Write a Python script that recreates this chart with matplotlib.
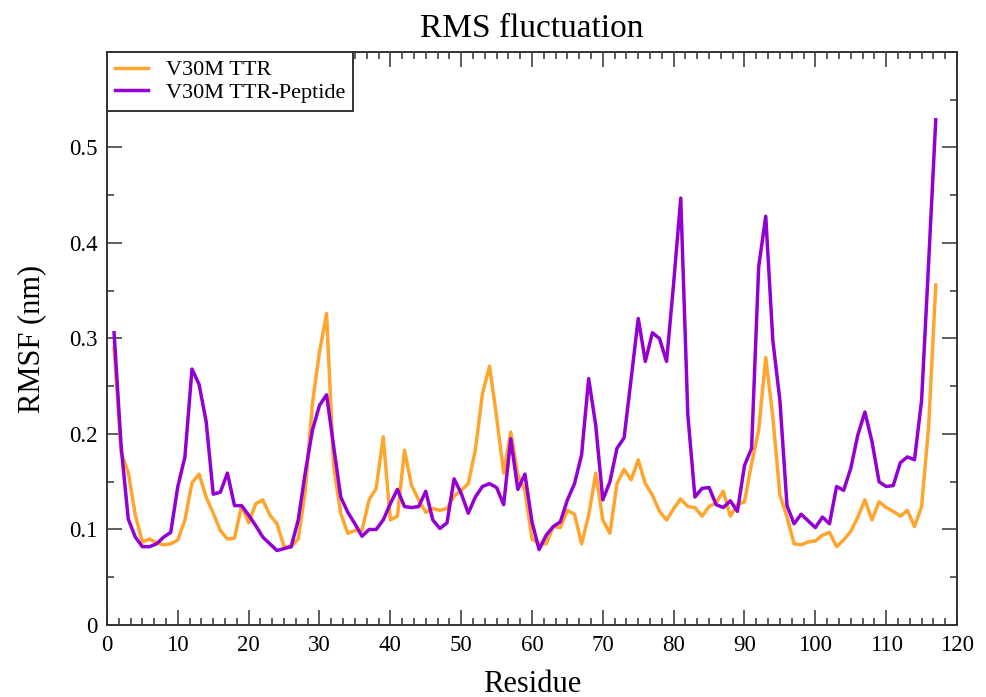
import matplotlib
matplotlib.use("Agg")
import matplotlib.pyplot as plt
from matplotlib.ticker import MultipleLocator

# RMSF per residue (nm)
residues = list(range(1, 118))

rmsf_ttr = [
	0.290, 0.180, 0.160, 0.115, 0.087, 0.090, 0.086, 0.084, 0.085, 0.089,
	0.110, 0.149, 0.158, 0.134, 0.117, 0.099, 0.090, 0.091, 0.125, 0.107,
	0.127, 0.131, 0.115, 0.106, 0.082, 0.082, 0.090, 0.141, 0.232, 0.286,
	0.326, 0.166, 0.117, 0.096, 0.099, 0.099, 0.131, 0.143, 0.197, 0.110,
	0.114, 0.183, 0.146, 0.131, 0.118, 0.122, 0.120, 0.122, 0.135, 0.141,
	0.148, 0.183, 0.242, 0.271, 0.218, 0.159, 0.202, 0.157, 0.141, 0.090,
	0.085, 0.085, 0.103, 0.102, 0.120, 0.116, 0.085, 0.115, 0.159, 0.110,
	0.096, 0.148, 0.163, 0.152, 0.173, 0.148, 0.136, 0.119, 0.110, 0.122,
	0.132, 0.124, 0.123, 0.114, 0.124, 0.128, 0.140, 0.114, 0.126, 0.129,
	0.169, 0.204, 0.280, 0.218, 0.136, 0.113, 0.085, 0.084, 0.087, 0.088,
	0.094, 0.097, 0.082, 0.089, 0.098, 0.113, 0.131, 0.110, 0.129, 0.123,
	0.119, 0.114, 0.120, 0.103, 0.124, 0.208, 0.356,
]

rmsf_peptide = [
	0.306, 0.187, 0.111, 0.092, 0.082, 0.082, 0.085, 0.092, 0.097, 0.145,
	0.176, 0.268, 0.252, 0.213, 0.137, 0.139, 0.159, 0.125, 0.125, 0.115,
	0.104, 0.092, 0.085, 0.078, 0.080, 0.082, 0.110, 0.160, 0.204, 0.230,
	0.241, 0.187, 0.134, 0.118, 0.106, 0.093, 0.100, 0.100, 0.110, 0.127,
	0.142, 0.124, 0.123, 0.124, 0.140, 0.110, 0.101, 0.107, 0.153, 0.138,
	0.117, 0.134, 0.145, 0.148, 0.144, 0.126, 0.195, 0.142, 0.158, 0.108,
	0.079, 0.094, 0.103, 0.108, 0.131, 0.148, 0.178, 0.258, 0.209, 0.131,
	0.150, 0.185, 0.196, 0.258, 0.321, 0.276, 0.306, 0.300, 0.276, 0.358,
	0.447, 0.220, 0.134, 0.143, 0.144, 0.126, 0.123, 0.130, 0.119, 0.167,
	0.185, 0.375, 0.428, 0.298, 0.235, 0.125, 0.106, 0.116, 0.109, 0.102,
	0.113, 0.106, 0.145, 0.141, 0.164, 0.199, 0.223, 0.192, 0.150, 0.145,
	0.146, 0.170, 0.176, 0.173, 0.235, 0.380, 0.529,
]

labels = ["V30M TTR", "V30M TTR-Peptide"]
colors = ["#ffa52e", "#9400d3"]

plt.rcParams["font.family"] = ["Liberation Serif", "DejaVu Serif"]


def main() -> int:
	fig = plt.figure(figsize=(9.87, 6.97), dpi=100)
	ax = fig.add_axes([0.1084, 0.1033, 0.8612, 0.8221])

	ax.plot(residues, rmsf_ttr, color=colors[0], lw=2.5, label=labels[0])
	ax.plot(residues, rmsf_peptide, color=colors[1], lw=2.5, label=labels[1])

	ax.set_xlim(0, 120)
	ax.set_ylim(0, 0.6)
	ax.xaxis.set_major_locator(MultipleLocator(10))
	ax.xaxis.set_minor_locator(MultipleLocator(10 / 6))
	ax.set_yticks([0, 0.1, 0.2, 0.3, 0.4, 0.5])
	ax.set_yticklabels(["0", "0.1", "0.2", "0.3", "0.4", "0.5"])
	ax.yaxis.set_minor_locator(MultipleLocator(0.05))

	ax.tick_params(which="both", direction="in", top=True, right=True,
				   color="#333333", labelsize=16.5)
	ax.tick_params(which="major", length=11, width=1.1, pad=7)
	ax.tick_params(which="minor", length=5, width=1.1)
	for sp in ax.spines.values():
		sp.set_linewidth(1.4)
		sp.set_color("#333333")

	ax.set_title("RMS fluctuation", fontsize=24, pad=11)
	ax.set_xlabel("Residue", fontsize=22, labelpad=10)
	ax.set_ylabel("RMSF (nm)", fontsize=22, labelpad=16)

	leg = ax.legend(loc="upper left", borderaxespad=0, fancybox=False,
					fontsize=16, handlelength=1.5, handletextpad=0.8,
					borderpad=0.35, labelspacing=0.1, framealpha=1)
	leg.get_frame().set_edgecolor("#333333")
	leg.get_frame().set_linewidth(1.4)

	fig.savefig("out.png", dpi=100)
	return 0


if __name__ == "__main__":
	exit(main())
